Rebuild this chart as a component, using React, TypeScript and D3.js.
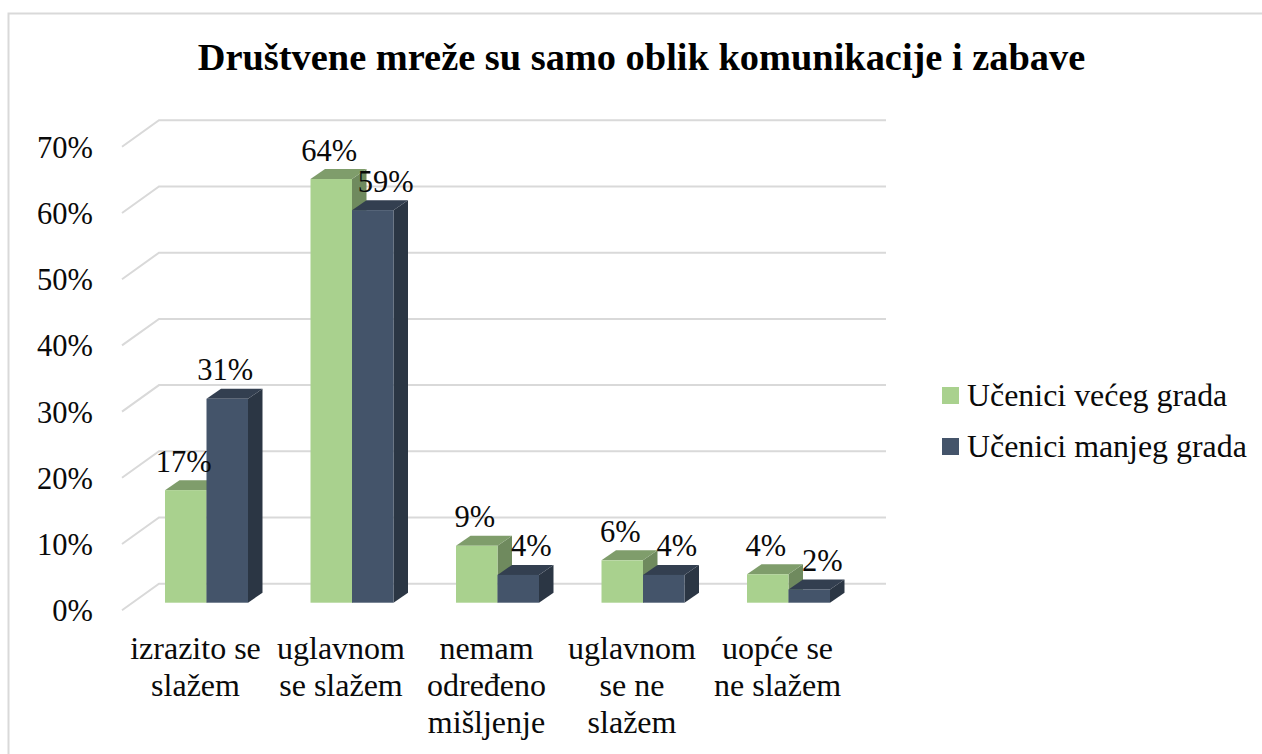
import React from "react";
import * as d3 from "d3";

const categories = [
  ["izrazito se", "slažem"],
  ["uglavnom", "se slažem"],
  ["nemam", "određeno", "mišljenje"],
  ["uglavnom", "se ne", "slažem"],
  ["uopće se", "ne slažem"],
];
const largeCity = [17, 64, 8.6, 6.4, 4.3];
const smallCity = [30.8, 59.3, 4.2, 4.2, 2.0];
const seriesNames = ["Učenici većeg grada", "Učenici manjeg grada"];
const yTicks = [0, 10, 20, 30, 40, 50, 60, 70];
const title = "Društvene mreže su samo oblik komunikacije i zabave";

const colors = [
  { front: "#a9d18e", top: "#7f9d6b", side: "#6f8a5e" },
  { front: "#44546a", top: "#333f50", side: "#2b3644" },
];

const FONT = "'Liberation Serif', 'Times New Roman', serif";
const DX = 14.5;
const DY = 10;
const TEXT = "#0a0a0a";

export default function App() {
  const xBand = d3.scaleBand<number>().domain(d3.range(5)).range([133.75, 861.25]).paddingInner(0.4296).paddingOuter(0.2148);
  const bw = xBand.bandwidth() / 2;
  const y = d3.scaleLinear().domain([0, 70]).range([602.7, 139.3]);
  const wallFrontY = (t: number) => y(t) + 7.5;
  const wallBackY = (t: number) => y(t) - 19;

  const bar = (i: number, s: number, v: number) => {
    const x0 = xBand(i)! + s * bw;
    const x1 = x0 + bw;
    const yt = y(v);
    const yb = y(0);
    const c = colors[s];
    return (
      <g key={`${i}-${s}`}>
        <path d={`M${x1},${yb}L${x1 + DX},${yb - DY}L${x1 + DX},${yt - DY}L${x1},${yt}Z`} fill={c.side} />
        <path d={`M${x0},${yt}L${x0 + DX},${yt - DY}L${x1 + DX},${yt - DY}L${x1},${yt}Z`} fill={c.top} />
        <rect x={x0} y={yt} width={bw} height={yb - yt} fill={c.front} />
      </g>
    );
  };

  return (
    <svg
      width={1262}
      height={754}
      style={{ position: "absolute", left: 0, top: 0, background: "#fff" }}
      fontFamily={FONT}
    >
      <path d="M8.5,754V13.5H1262" fill="none" stroke="#d9d9d9" strokeWidth={2} />
      <text x={641.5} y={70} textAnchor="middle" fontSize={38.4} fontWeight="bold" fill="#000">
        {title}
      </text>

      {yTicks.map((t) => (
        <g key={t}>
          <path
            d={`M122,${wallFrontY(t)}L159,${wallBackY(t)}H886`}
            fill="none"
            stroke="#d9d9d9"
            strokeWidth={2}
          />
          <text x={93} y={y(t) + 18.5} textAnchor="end" fontSize={30.5} fill={TEXT}>
            {t}%
          </text>
        </g>
      ))}

      {d3.range(5).map((i) => (
        <g key={i}>
          {bar(i, 0, largeCity[i])}
          {bar(i, 1, smallCity[i])}
        </g>
      ))}

      {d3.range(5).map((i) => (
        <g key={i} fontSize={30.5} fill={TEXT} textAnchor="middle">
          <text x={xBand(i)! + bw / 2 - 2} y={y(largeCity[i]) - 18.5}>
            {Math.round(largeCity[i])}%
          </text>
          <text x={xBand(i)! + 1.5 * bw + (i === 0 ? -2 : 13)} y={y(smallCity[i]) - 18.5}>
            {Math.round(smallCity[i])}%
          </text>
          {categories[i].map((line, k) => (
            <text key={k} x={xBand(i)! + bw - 11} y={659 + k * 37} fontSize={32}>
              {line}
            </text>
          ))}
        </g>
      ))}

      {seriesNames.map((name, s) => (
        <g key={name}>
          <rect x={942} y={387 + s * 51} width={17} height={17} fill={colors[s].front} />
          <text x={967} y={406 + s * 51} fontSize={31.9} fill={TEXT}>
            {name}
          </text>
        </g>
      ))}
    </svg>
  );
}
